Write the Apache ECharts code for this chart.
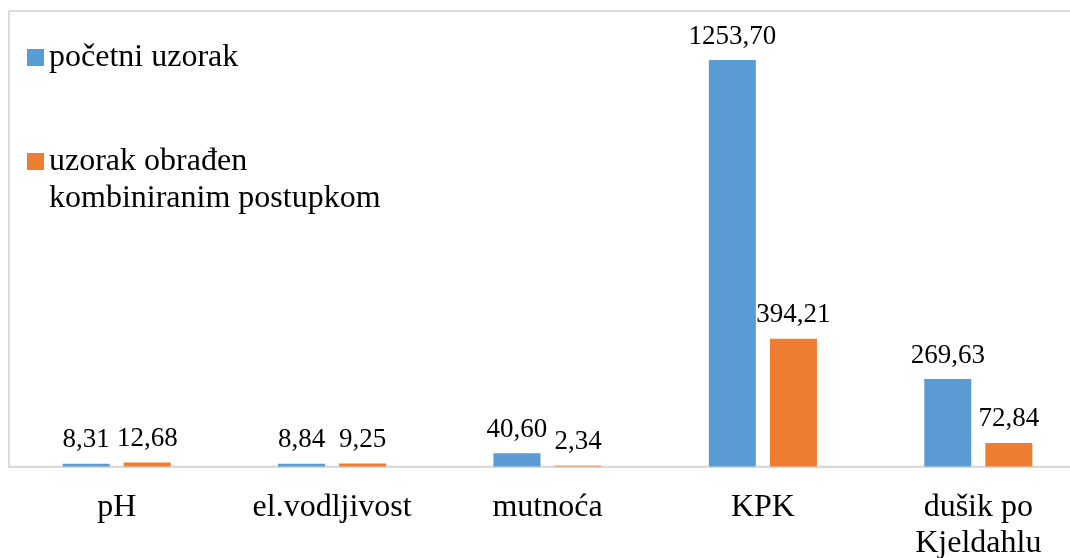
<!DOCTYPE html>
<html>
<head>
<meta charset="utf-8">
<script src="https://cdn.jsdelivr.net/npm/echarts@6/dist/echarts.min.js"></script>
<style>
html,body{margin:0;padding:0;background:#fff;}
#chart{width:1070px;height:558px;}
</style>
</head>
<body>
<div id="chart"></div>
<script>
const categories = ['pH', 'el.vodljivost', 'mutnoća', 'KPK', 'dušik po\nKjeldahlu'];
const seriesNames = ['početni uzorak', 'uzorak obrađen\nkombiniranim postupkom'];
const initialValues = [8.31, 8.84, 40.60, 1253.70, 269.63];
const treatedValues = [12.68, 9.25, 2.34, 394.21, 72.84];

const FONT = '"Liberation Serif", "Times New Roman", serif';
const fmt = p => p.value.toFixed(2).replace('.', ',');

const chart = echarts.init(document.getElementById('chart'), null, {renderer: 'canvas'});
const labelCfg = {
  show: true, position: 'top', distance: 10,
  fontFamily: FONT, fontSize: 27, color: '#000', formatter: fmt
};
chart.setOption({
  animation: false,
  backgroundColor: '#fff',
  grid: {
    left: 9, width: 1077, top: 11, bottom: 91.5,
    show: true, borderColor: '#d0d0d0', borderWidth: 1.5,
    containLabel: false,
    outerBoundsMode: 'none'
  },
  legend: [
    {
      data: [seriesNames[0]],
      orient: 'vertical', left: 27, top: 39, padding: 0,
      itemWidth: 17, itemHeight: 17, icon: 'rect', itemGap: 0,
      textStyle: {fontFamily: FONT, fontSize: 32, color: '#000', lineHeight: 37}
    },
    {
      data: [seriesNames[1]],
      orient: 'vertical', left: 27, top: 143, padding: 0,
      itemWidth: 17, itemHeight: 54,
      icon: 'path://M0,0H17V17H0Z M0,53.95H0.05V54H0Z',
      itemGap: 0,
      textStyle: {fontFamily: FONT, fontSize: 32, color: '#000', lineHeight: 37}
    }
  ],
  xAxis: {
    type: 'category',
    data: categories,
    axisLine: {show: true, lineStyle: {color: '#d9d9d9', width: 2}},
    axisTick: {show: false},
    axisLabel: {
      fontFamily: FONT, fontSize: 32, color: '#000', lineHeight: 36,
      margin: 23, interval: 0
    }
  },
  yAxis: {
    type: 'value', min: 0, max: 1405,
    show: false,
    splitLine: {show: false}
  },
  series: [
    {
      name: seriesNames[0], type: 'bar', data: initialValues,
      barWidth: 47, barGap: '30%',
      itemStyle: {color: '#5B9BD5'},
      label: labelCfg
    },
    {
      name: seriesNames[1], type: 'bar', data: treatedValues,
      barWidth: 47, barGap: '30%',
      itemStyle: {color: '#ED7D31'},
      label: labelCfg
    }
  ]
});
</script>
</body>
</html>
